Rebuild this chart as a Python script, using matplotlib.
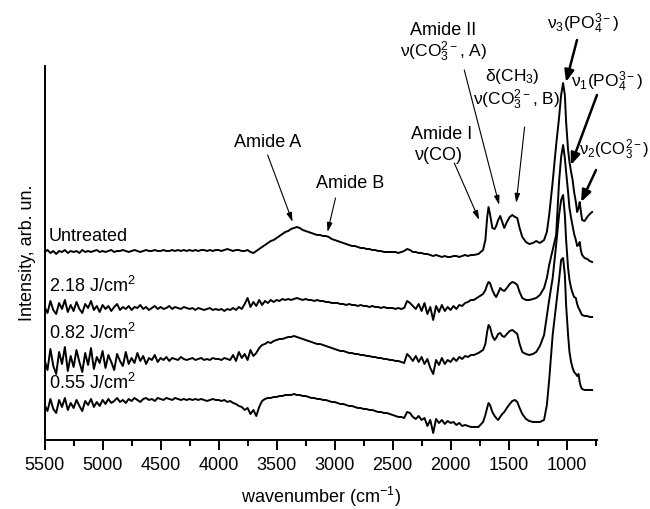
import numpy as np
import matplotlib
matplotlib.use("Agg")
import matplotlib.pyplot as plt
from matplotlib.ticker import MultipleLocator

plt.rcParams["font.family"] = ["Liberation Sans", "DejaVu Sans"]
plt.rcParams["mathtext.fontset"] = "custom"
plt.rcParams["mathtext.rm"] = "Liberation Sans"
plt.rcParams["mathtext.it"] = "Liberation Sans:italic"
plt.rcParams["mathtext.bf"] = "Liberation Sans:bold"

# ---------------------------------------------------------------- data
# sampling grid: 25 cm-1 steps over the flat part, hand-picked points over the bands
wn_coarse = list(range(5500, 1800, -25))
wn_fine = [1800, 1760, 1720, 1700, 1685, 1673, 1660, 1640, 1620, 1607,
           1590, 1572, 1555, 1537, 1515, 1490, 1468, 1445, 1425, 1405,
           1382, 1350, 1322, 1290, 1262, 1230, 1194, 1170, 1150, 1120,
           1090, 1065, 1047, 1030, 1015, 1004, 987, 975, 961, 948,
           935, 920, 909, 897, 887, 876, 866, 845, 822, 800, 780]
wavenumber = np.array(wn_coarse + wn_fine)

# stacked spectra (already offset), arb. units
untreated = [188, 190, 187, 189, 186, 189, 188, 190, 187, 189,
             188, 189, 187, 190, 188, 189, 188, 189, 190, 188,
             189, 188, 189, 190, 188, 189, 189, 190, 189, 188,
             189, 190, 189, 188, 189, 190, 189, 189, 190, 189,
             189, 190, 189, 189, 190, 189, 190, 189, 190, 189,
             190, 189, 190, 189, 190, 190, 189, 190, 189, 190,
             190, 189, 190, 191, 190, 189, 190, 190, 189, 189,
             190, 188, 187, 189, 191, 193, 195, 197, 199, 200,
             202, 204, 206, 208, 209, 211, 212, 213, 212, 210,
             209, 208, 207, 206, 205, 205, 204, 204, 203, 201,
             200, 199, 198, 197, 196, 195, 194, 194, 193, 192,
             192, 191, 191, 190, 190, 189, 189, 188, 188, 188,
             188, 188, 187, 188, 189, 191, 190, 188, 188, 187,
             187, 186, 186, 185, 184, 185, 184, 183, 184, 183,
             183, 184, 184, 183, 184, 185, 184, 185,
             185, 186, 190, 200, 222, 233, 226, 212, 211, 214,
             220, 224, 218, 212, 218, 223, 225, 223, 222, 212,
             203, 198, 196, 197, 199, 197, 200, 208, 225, 258,
             295, 322, 345, 357, 345, 318, 290, 278, 268, 260,
             248, 238, 228, 232, 238, 228, 220, 219, 223, 226, 228]
fl_218 = [133, 127, 139, 130, 126, 137, 131, 140, 128, 135,
          129, 138, 131, 127, 136, 132, 139, 130, 134, 128,
          135, 131, 134, 129, 133, 136, 130, 133, 131, 134,
          130, 133, 132, 135, 131, 133, 130, 132, 134, 131,
          133, 131, 132, 134, 131, 133, 132, 131, 133, 132,
          131, 132, 130, 132, 131, 130, 131, 132, 130, 131,
          130, 131, 129, 131, 130, 132, 130, 133, 131, 136,
          142, 133, 138, 134, 140, 135, 139, 137, 140, 138,
          140, 139, 141, 140, 141, 140, 141, 142, 141, 140,
          141, 140, 140, 139, 140, 139, 139, 138, 138, 137,
          137, 137, 136, 136, 135, 136, 135, 135, 134, 135,
          134, 134, 133, 134, 133, 133, 132, 133, 132, 132,
          132, 131, 132, 131, 132, 139, 137, 134, 131, 136,
          129, 137, 126, 133, 120, 134, 128, 135, 129, 133,
          130, 134, 131, 135, 134, 137, 138, 140,
          140, 143, 146, 150, 155, 158, 157, 150, 145, 143,
          147, 152, 150, 149, 152, 156, 158, 157, 155, 148,
          142, 140, 140, 141, 142, 145, 152, 162, 175, 190,
          205, 258, 283, 295, 282, 268, 248, 232, 222, 214,
          206, 200, 194, 195, 198, 189, 185, 182, 181, 179, 178]
fl_082 = [80, 70, 91, 74, 66, 88, 76, 93, 69, 84,
          73, 90, 78, 68, 87, 75, 92, 71, 83, 77,
          89, 72, 85, 78, 70, 86, 79, 74, 88, 76,
          82, 77, 87, 79, 84, 76, 82, 80, 85, 78,
          82, 80, 83, 79, 82, 81, 80, 83, 81, 80,
          81, 82, 80, 81, 82, 80, 81, 80, 82, 81,
          81, 80, 82, 81, 80, 85, 79, 88, 82, 86,
          80, 90, 84, 87, 92, 95, 96, 98, 97, 99,
          100, 101, 101, 102, 103, 103, 104, 103, 102, 101,
          100, 99, 98, 97, 96, 96, 95, 94, 93, 92,
          91, 90, 89, 89, 88, 87, 87, 86, 86, 85,
          85, 84, 84, 83, 83, 82, 82, 81, 81, 80,
          80, 79, 79, 78, 77, 86, 83, 79, 84, 78,
          83, 76, 81, 72, 66, 80, 75, 82, 76, 80,
          78, 82, 79, 83, 81, 84, 83, 85,
          85, 87, 90, 96, 108, 115, 113, 104, 100, 102,
          106, 107, 104, 103, 106, 109, 110, 108, 106, 96,
          88, 86, 85, 86, 88, 94, 105, 124, 140, 162,
          195, 225, 240, 245, 225, 200, 172, 160, 152, 147,
          143, 142, 136, 132, 130, 127, 125, 124, 124, 123, 123]
fl_055 = [35, 29, 41, 31, 27, 40, 33, 42, 30, 37,
          32, 40, 34, 29, 39, 35, 41, 33, 38, 34,
          40, 36, 41, 37, 39, 42, 38, 40, 37, 41,
          39, 42, 40, 38, 41, 42, 40, 41, 39, 42,
          41, 40, 42, 41, 40, 42, 41, 40, 41, 40,
          41, 40, 41, 40, 41, 40, 39, 40, 41, 40,
          40, 39, 40, 38, 39, 37, 36, 34, 33, 30,
          32, 26, 30, 24, 33, 39, 41, 42, 42, 43,
          43, 44, 44, 45, 45, 45, 46, 45, 45, 44,
          44, 43, 42, 42, 41, 41, 40, 40, 39, 38,
          38, 37, 36, 36, 35, 34, 34, 33, 32, 32,
          31, 31, 30, 30, 29, 28, 28, 27, 27, 26,
          25, 24, 23, 23, 22, 28, 27, 23, 21, 24,
          20, 22, 14, 20, 7, 21, 17, 20, 16, 19,
          17, 18, 15, 17, 14, 15, 14, 13,
          13, 13, 18, 25, 32, 37, 35, 28, 24, 22,
          20, 23, 26, 28, 32, 36, 39, 40, 38, 32,
          26, 21, 19, 18, 18, 18, 20, 35, 60, 105,
          135, 160, 180, 182, 165, 135, 105, 88, 78, 72,
          68, 66, 64, 66, 58, 53, 51, 50, 50, 50, 50]

series = [untreated, fl_218, fl_082, fl_055]
labels = ["Untreated", "2.18 J/cm$^2$", "0.82 J/cm$^2$", "0.55 J/cm$^2$"]
label_y = [204, 154, 107, 57]

# ---------------------------------------------------------------- figure
fig = plt.figure(figsize=(6.5, 5.09), dpi=100)
ax = fig.add_axes([0.0686, 0.1356, 0.8491, 0.7347])

for s in series:
    ax.plot(wavenumber, s, color="black", lw=1.4)

ax.set_xlim(5500, 742)
ax.set_ylim(0, 374)
ax.xaxis.set_major_locator(MultipleLocator(500))
ax.xaxis.set_minor_locator(MultipleLocator(250))
ax.tick_params(axis="x", which="major", length=7, width=1.4, labelsize=13, pad=5)
ax.tick_params(axis="x", which="minor", length=4, width=1.4)
ax.set_yticks([])
for side in ["top", "right"]:
    ax.spines[side].set_visible(False)
for side in ["left", "bottom"]:
    ax.spines[side].set_linewidth(1.4)

ax.set_xlabel("wavenumber (cm$^{-1}$)", fontsize=13, labelpad=8)
ax.set_ylabel("Intensity, arb. un.", fontsize=13, labelpad=6)

for lab, y in zip(labels, label_y):
    ax.text(5462, y, lab, fontsize=13, ha="left", va="center")

# ---------------------------------------------------------------- band labels
FS = 13
FSM = 12.5
thin = dict(arrowstyle="-|>,head_length=0.55,head_width=0.16", lw=0.8, color="black",
            shrinkA=0, shrinkB=0)
thick = dict(arrowstyle="-|>,head_length=0.7,head_width=0.28", lw=1.8, color="black",
             shrinkA=0, shrinkB=0)

ax.text(3573, 298, "Amide A", fontsize=FS, ha="center", va="center")
ax.annotate("", xy=(3362, 218), xytext=(3577, 285), arrowprops=thin)

ax.text(2863, 257, "Amide B", fontsize=FS, ha="center", va="center")
ax.annotate("", xy=(3061, 208), xytext=(2992, 242), arrowprops=thin)

ax.text(2076, 306, "Amide I", fontsize=FS, ha="center", va="center")
ax.text(2097, 285, "ν(CO)", fontsize=FS, ha="center", va="center")
ax.annotate("", xy=(1753, 220), xytext=(1968, 277), arrowprops=thin)

ax.text(2063, 410, "Amide II", fontsize=FS, ha="center", va="center", clip_on=False)
ax.text(2059, 388, "ν(CO$_3^{2-}$, A)", fontsize=FSM, ha="center", va="center", clip_on=False)
ax.annotate("", xy=(1581, 235), xytext=(1882, 370), arrowprops=thin)

ax.text(1469, 364, "δ(CH$_3$)", fontsize=FSM, ha="center", va="center")
ax.text(1430, 340, "ν(CO$_3^{2-}$, B)", fontsize=FSM, ha="center", va="center")
ax.annotate("", xy=(1434, 237), xytext=(1362, 313), arrowprops=thin)

ax.text(854, 416, "ν$_3$(PO$_4^{3-}$)", fontsize=FSM, ha="center", va="center", clip_on=False)
ax.annotate("", xy=(1005, 358), xytext=(910, 400), arrowprops=thick)

ax.text(340, 358, "ν$_1$(PO$_4^{3-}$)", fontsize=FSM, ha="right", va="center", clip_on=False)
ax.annotate("", xy=(962, 275), xytext=(738, 345), arrowprops=thick, annotation_clip=False)

ax.text(290, 290, "ν$_2$(CO$_3^{2-}$)", fontsize=12, ha="right", va="center", clip_on=False)
ax.annotate("", xy=(875, 238), xytext=(746, 270), arrowprops=thick, annotation_clip=False)

fig.savefig("out.png", dpi=100)
